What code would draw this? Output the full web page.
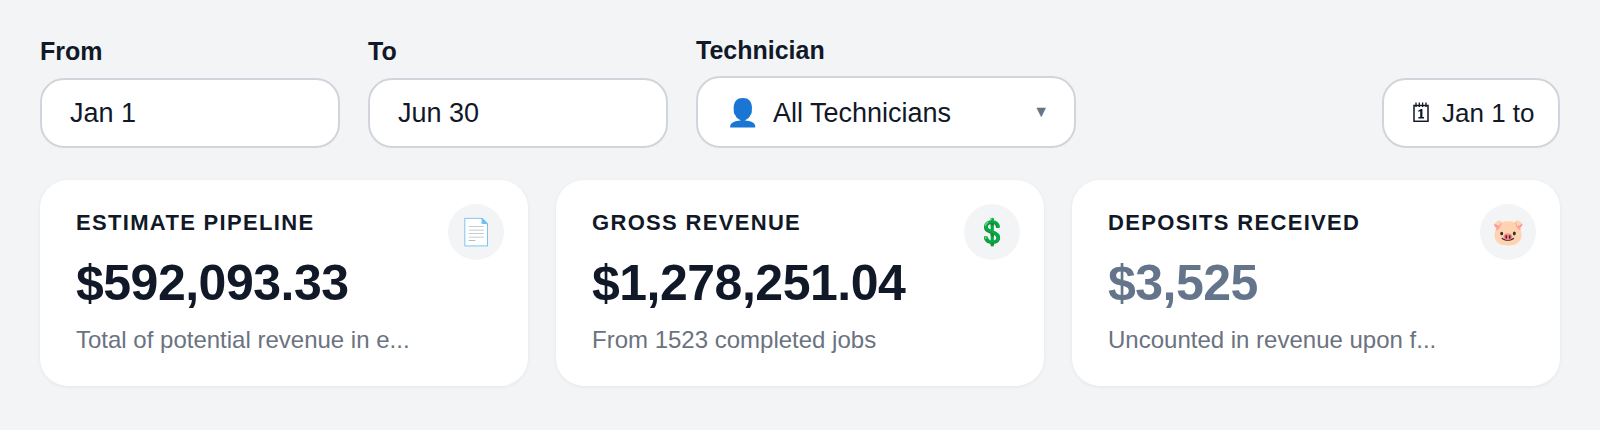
<!DOCTYPE html>
<html>
<head>
<meta charset="utf-8">
<title>Dashboard</title>
<script src="https://cdn.jsdelivr.net/npm/chart.js@4"></script>
<style>
  html, body { margin: 0; height: 100%; background: #f3f4f6; overflow: hidden; }
  body { position: relative; width: 1600px; height: 430px; font-family: "Liberation Sans", sans-serif; color: #111827; }

  .field { position: absolute; }
  .field label { position: absolute; left: 0; font-size: 25px; font-weight: 700; line-height: 30px; white-space: nowrap; }
  .box { position: absolute; left: 0; right: 0; box-sizing: border-box; background: #fff; border: 2px solid #d1d5db; border-radius: 24px; font-size: 27px; display: flex; align-items: center; white-space: nowrap; }
  .box .caret { position: absolute; right: 25px; font-size: 16px; color: #6b7280; }

  .card { position: absolute; top: 180px; width: 488px; height: 206px; background: #fff; border-radius: 28px; box-shadow: 0 1px 4px rgba(0,0,0,0.06); }
  .card .title { position: absolute; left: 36px; top: 30px; font-size: 22px; font-weight: 700; letter-spacing: 1.32px; line-height: 26px; white-space: nowrap; }
  .card .value { position: absolute; left: 36px; top: 73px; font-size: 50px; font-weight: 700; letter-spacing: -0.5px; line-height: 60px; white-space: nowrap; }
  .card .note { position: absolute; left: 36px; top: 145px; font-size: 24px; color: #6b7280; line-height: 30px; white-space: nowrap; }
  .card .icon { position: absolute; right: 24px; top: 24px; width: 56px; height: 56px; border-radius: 50%; background: #f3f4f6; display: flex; align-items: center; justify-content: center; font-size: 26px; }
</style>
</head>
<body>
<script>
const filterLabels = ["From", "To", "Technician"];
const filterValues = ["Jan 1", "Jun 30", "All Technicians"];
const rangeLabel = "Jan 1 to";

const cardTitles = ["ESTIMATE PIPELINE", "GROSS REVENUE", "DEPOSITS RECEIVED"];
const cardValues = ["$592,093.33", "$1,278,251.04", "$3,525"];
const cardNotes = ["Total of potential revenue in e...", "From 1523 completed jobs", "Uncounted in revenue upon f..."];
const cardIcons = ["📄", "💲", "🐷"];
const cardColors = ["#111827", "#111827", "#64748b"];

// spiral pad with a 1, the emoji font here draws a different calendar
const calendarIcon = `<svg width="16" height="20" viewBox="0 0 16 20" style="display:block;margin:-2px 0 0 2px" aria-hidden="true">
    <rect x="1" y="3.5" width="14" height="15.8" fill="none" stroke="#111827" stroke-width="1.5"/>
    <path d="M3 0.5V5M6.3 0.5V5M9.6 0.5V5M13 0.5V5" stroke="#111827" stroke-width="1.3"/>
    <path d="M5.4 8.6L8 7H9.4V15H11V16.6H5.4V15H7.2V9L5.4 10Z" fill="#111827"/>
</svg>`;

function addField(left, width, labelTop, boxTop, boxHeight, label, html, padding) {
    const f = document.createElement("div");
    f.className = "field";
    f.style.cssText = `left:${left}px;top:0;width:${width}px;`;
    const box = `<div class="box" style="top:${boxTop}px;height:${boxHeight}px;padding-left:${padding}px">${html}</div>`;
    f.innerHTML = (label ? `<label style="top:${labelTop}px">${label}</label>` : "") + box;
    document.body.appendChild(f);
}

addField(40, 300, 36, 78, 70, filterLabels[0], filterValues[0], 28);
addField(368, 300, 36, 78, 70, filterLabels[1], filterValues[1], 28);
addField(696, 380, 35, 76, 72, filterLabels[2],
    `<span style="font-size:27px;color:#1976d2;margin-right:13px;padding-top:2px">👤</span><span style="padding-top:2px">${filterValues[2]}</span><span class="caret">▼</span>`, 28);
addField(1382, 178, 0, 78, 70, "", `<span style="width:31px;display:inline-block">${calendarIcon}</span><span style="font-size:26px">${rangeLabel}</span>`, 27);

cardTitles.forEach((t, i) => {
    const c = document.createElement("div");
    c.className = "card";
    c.style.left = (40 + i * 516) + "px";
    c.innerHTML = `<div class="title">${t}</div>
        <div class="value" style="color:${cardColors[i]}">${cardValues[i]}</div>
        <div class="note">${cardNotes[i]}</div>
        <div class="icon">${cardIcons[i]}</div>`;
    document.body.appendChild(c);
});
</script>
</body>
</html>
